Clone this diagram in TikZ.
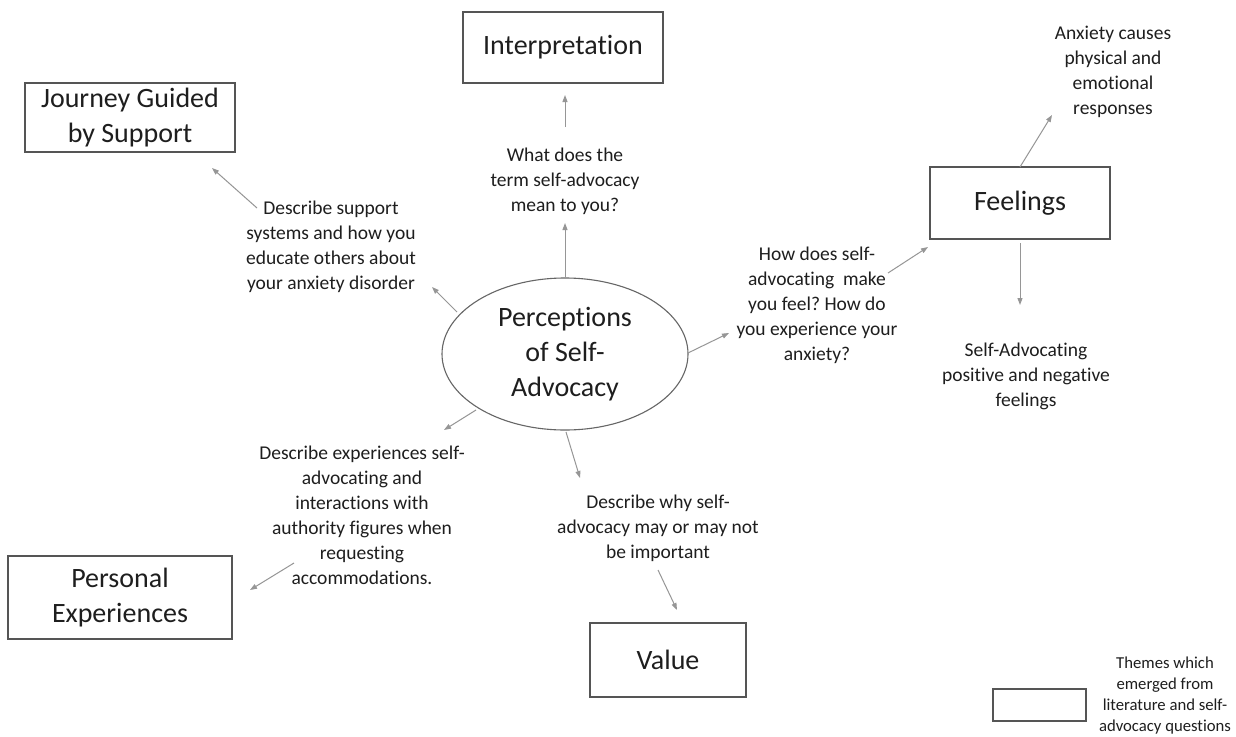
\documentclass[tikz,border=0pt]{standalone}
\usepackage{fontspec}
\setmainfont{Carlito}[Ligatures={NoCommon}]
\usetikzlibrary{arrows.meta,shapes.geometric}
\definecolor{arrgray}{RGB}{150,150,150}
\definecolor{boxgray}{RGB}{85,85,85}
\definecolor{txt}{RGB}{30,30,30}
\frenchspacing
\begin{document}
\begin{tikzpicture}[x=1pt,y=-1pt,
 theme/.style={draw=boxgray,line width=1.1pt,inner sep=0pt,align=center,text=txt,font=\fontsize{28}{35}\selectfont},
 question/.style={align=center,text=txt,inner sep=1pt,font=\fontsize{19.5}{25}\selectfont},
 arr/.style={draw=arrgray,line width=1pt,-{Triangle[length=7pt,width=5pt]}}]
\useasboundingbox[fill=white] (0,0) rectangle (1236,736);

% theme boxes
\node[theme,minimum width=200pt,minimum height=71pt] (interp) at (563,47.5) {Interpretation};
\node[theme,minimum width=210pt,minimum height=69pt] (journey) at (130,117.5) {Journey Guided\\by Support};
\node[theme,minimum width=180pt,minimum height=72pt] (feel) at (1020,203) {Feelings};
\node[theme,minimum width=224pt,minimum height=83pt] (pers) at (120,597.5) {Personal\\Experiences};
\node[theme,minimum width=156pt,minimum height=74pt] (value) at (668,660) {Value};
\node[theme,minimum width=93pt,minimum height=32pt] (legbox) at (1039.5,705) {};

% central ellipse
\node[ellipse,draw=boxgray!90,line width=1.1pt,minimum width=246pt,minimum height=152pt,inner sep=0pt,align=center,text=txt,font=\fontsize{28}{35}\selectfont] (ell) at (565,354) {Perceptions\\of Self-\\Advocacy};

% questions / sub-themes
\node[question] (q1) at (565,181) {What does the\\term self-advocacy\\mean to you?};
\node[question] (q2) at (331,247) {Describe support\\systems and how you\\educate others about\\your anxiety disorder};
\node[question] (q3) at (817,305) {How does self-\\advocating\ \ make\\you feel? How do\\you experience your\\anxiety?};
\node[question] (q4) at (1113,72) {Anxiety causes\\physical and\\emotional\\responses};
\node[question] (q5) at (1026,376) {Self-Advocating\\positive and negative\\feelings};
\node[question] (q6) at (362,515.5) {Describe experiences self-\\advocating and\\interactions with\\authority figures when\\requesting\\accommodations.};
\node[question] (q7) at (658,528) {Describe why self-\\advocacy may or may not\\be important};
\node[align=center,text=txt,inner sep=1pt,font=\fontsize{16.7}{21}\selectfont] (legtxt) at (1165,696) {Themes which\\emerged from\\literature and self-\\advocacy questions};

% arrow end points
\coordinate (a1e) at (565,223);
\coordinate (a2s) at (565,127); \coordinate (a2e) at (565,95);
\coordinate (a3s) at (257,208); \coordinate (a3e) at (212,168);
\coordinate (a4s) at (457,312); \coordinate (a4e) at (432,287);
\coordinate (a5s) at (688,353); \coordinate (a5e) at (729,333);
\coordinate (a6s) at (888,273); \coordinate (a6e) at (928,247);
\coordinate (a7s) at (1020,167); \coordinate (a7e) at (1052,115);
\coordinate (a8s) at (1020,243); \coordinate (a8e) at (1020,305);
\coordinate (a9s) at (476,410); \coordinate (a9e) at (444,430);
\coordinate (a10s) at (294,563); \coordinate (a10e) at (250,590);
\coordinate (a11s) at (566,432); \coordinate (a11e) at (580,478);
\coordinate (a12s) at (658,570); \coordinate (a12e) at (677,610);

\draw[arr] (ell.north) -- (a1e);
\draw[arr] (a2s) -- (a2e);
\draw[arr] (a3s) -- (a3e);
\draw[arr] (a4s) -- (a4e);
\draw[arr] (a5s) -- (a5e);
\draw[arr] (a6s) -- (a6e);
\draw[arr] (a7s) -- (a7e);
\draw[arr] (a8s) -- (a8e);
\draw[arr] (a9s) -- (a9e);
\draw[arr] (a10s) -- (a10e);
\draw[arr] (a11s) -- (a11e);
\draw[arr] (a12s) -- (a12e);
\end{tikzpicture}
\end{document}
